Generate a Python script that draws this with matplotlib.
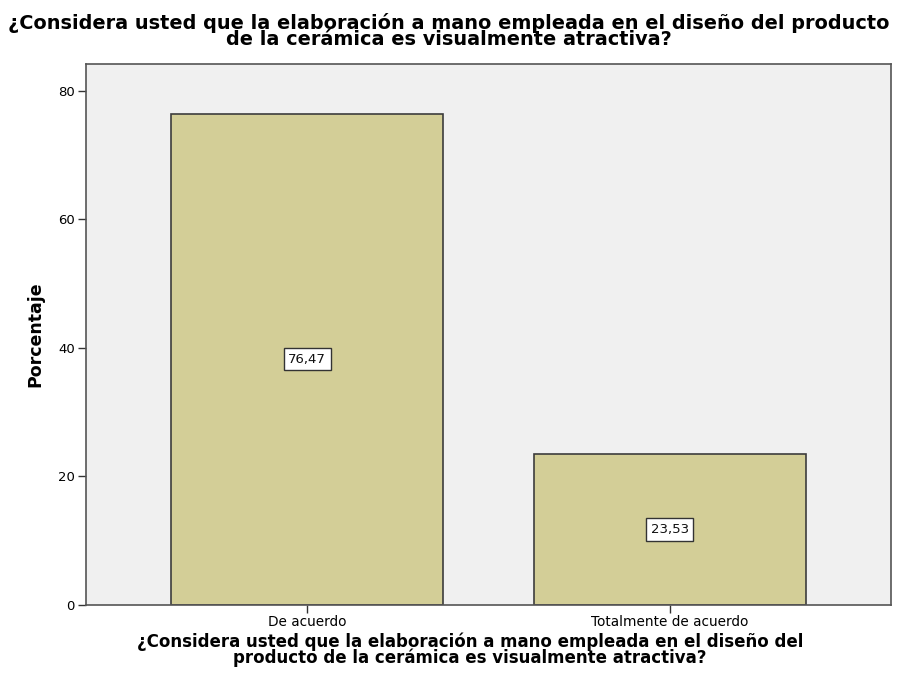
import matplotlib
matplotlib.use("Agg")
import matplotlib.pyplot as plt

categories = ["De acuerdo", "Totalmente de acuerdo"]
values = [76.47, 23.53]
labels = ["76,47", "23,53"]
yticks = [0, 20, 40, 60, 80]
title = "¿Considera usted que la elaboración a mano empleada en el diseño del producto\nde la cerámica es visualmente atractiva?"
xlabel = "¿Considera usted que la elaboración a mano empleada en el diseño del\nproducto de la cerámica es visualmente atractiva?"

plt.rcParams['font.family'] = ['DejaVu Sans']

fig = plt.figure(figsize=(8.97, 6.91), dpi=100)
W, H = 897, 691
left, right, top, bottom = 86, 891, 64, 605
ax = fig.add_axes([left / W, 1 - bottom / H, (right - left) / W, (bottom - top) / H])
ax.set_facecolor("#F0F0F0")

x = list(range(len(categories)))
ax.bar(x, values, width=0.75, color="#D3CE97", edgecolor="#3C3C3C", linewidth=1.2, zorder=2)
for xi, v, lab in zip(x, values, labels):
    ax.text(xi, v / 2, lab, ha="center", va="center", fontsize=9.5, color="#111111",
            bbox=dict(boxstyle="square,pad=0.35", facecolor="white", edgecolor="#333333", linewidth=1),
            zorder=3)

ax.set_xlim(-0.61, 1.61)
ax.set_ylim(0, 84.2)
ax.set_xticks(x)
ax.set_xticklabels(categories, fontsize=9.8)
ax.set_yticks(yticks)
ax.set_yticklabels([str(t) for t in yticks], fontsize=9.5)
ax.tick_params(axis="x", direction="out", length=6, width=1, color="#333333", pad=1)
ax.tick_params(axis="y", direction="out", length=6, width=1, color="#333333", pad=2)
for s in ax.spines.values():
    s.set_color("#555555")
    s.set_linewidth(1.2)

ax.set_ylabel("Porcentaje", fontsize=12.5, fontweight="bold", labelpad=10)
fig.text(470 / W, 1 - 650 / H, xlabel, ha="center", va="center", fontsize=12,
         fontweight="bold", linespacing=0.86)
fig.text(449 / W, 1 - 31 / H, title, ha="center", va="center", fontsize=13.9,
         fontweight="bold", linespacing=0.85)

fig.savefig("out.png", dpi=100)
